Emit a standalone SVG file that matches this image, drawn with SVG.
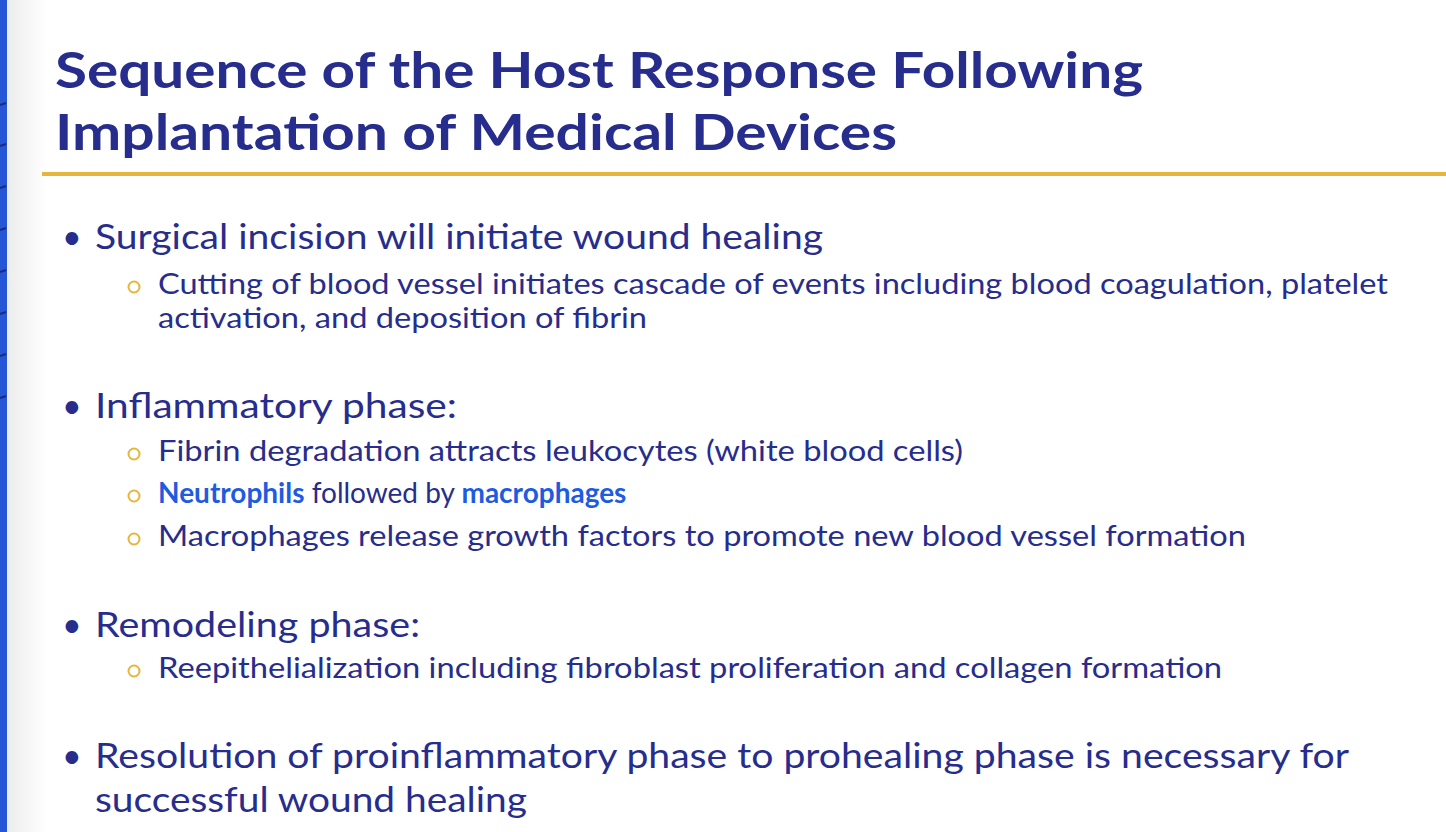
<svg xmlns="http://www.w3.org/2000/svg" width="1446" height="832" viewBox="0 0 1446 832">
<style>
.t{font-family:Lato,"Open Sans",sans-serif;fill:#272d8c}
.h{font-size:50px;font-weight:bold}
.b{font-size:34px}
.s{font-size:28px}
.k{font-weight:bold;fill:#1f5be0}
.c{fill:none;stroke:#e6b53c;stroke-width:2}
.tk{stroke:#1b2a7a;stroke-width:2}
</style>
<defs><linearGradient id="g" x1="0" x2="1"><stop offset="0" stop-color="#ececec"/><stop offset="1" stop-color="#fff"/></linearGradient></defs>
<rect width="1446" height="832" fill="#fff"/>
<rect x="7" width="40" height="832" fill="url(#g)"/>
<rect width="7" height="832" fill="#2456d6"/>
<g class="tk">
<line x1="0" y1="105" x2="6" y2="103"/><line x1="0" y1="146" x2="6" y2="144"/><line x1="0" y1="188" x2="6" y2="186"/><line x1="0" y1="230" x2="6" y2="228"/><line x1="0" y1="272" x2="6" y2="270"/><line x1="0" y1="314" x2="6" y2="312"/><line x1="0" y1="356" x2="6" y2="354"/><line x1="0" y1="398" x2="6" y2="396"/>
</g>
<text class="t h" x="55" y="88" textLength="1088" lengthAdjust="spacingAndGlyphs">Sequence of the Host Response Following</text>
<text class="t h" x="55" y="150" textLength="842" lengthAdjust="spacingAndGlyphs">Implantation of Medical Devices</text>
<rect x="42" y="172" width="1404" height="4" fill="#e6b53c"/>
<g class="t b">
<text x="62" y="249">•</text>
<text x="95" y="249" textLength="728" lengthAdjust="spacingAndGlyphs">Surgical incision will initiate wound healing</text>
<text x="62" y="418">•</text>
<text x="95" y="418" textLength="362" lengthAdjust="spacingAndGlyphs">Inflammatory phase:</text>
<text x="62" y="637">•</text>
<text x="95" y="637" textLength="325" lengthAdjust="spacingAndGlyphs">Remodeling phase:</text>
<text x="62" y="768">•</text>
<text x="95" y="768" textLength="1254" lengthAdjust="spacingAndGlyphs">Resolution of proinflammatory phase to prohealing phase is necessary for</text>
<text x="95" y="812" textLength="432" lengthAdjust="spacingAndGlyphs">successful wound healing</text>
</g>
<g>
<circle class="c" cx="134" cy="287" r="5.5"/><circle class="c" cx="134" cy="454" r="5.5"/><circle class="c" cx="134" cy="496" r="5.5"/><circle class="c" cx="134" cy="539" r="5.5"/><circle class="c" cx="134" cy="671" r="5.5"/>
</g>
<g class="t s">
<text x="158" y="294" textLength="1230" lengthAdjust="spacingAndGlyphs">Cutting of blood vessel initiates cascade of events including blood coagulation, platelet</text>
<text x="158" y="328" textLength="489" lengthAdjust="spacingAndGlyphs">activation, and deposition of fibrin</text>
<text x="158" y="461" textLength="805" lengthAdjust="spacingAndGlyphs">Fibrin degradation attracts leukocytes (white blood cells)</text>
<text x="158" y="503"><tspan class="k">Neutrophils</tspan> followed by <tspan class="k">macrophages</tspan></text>
<text x="158" y="546" textLength="1088" lengthAdjust="spacingAndGlyphs">Macrophages release growth factors to promote new blood vessel formation</text>
<text x="158" y="678" textLength="1064" lengthAdjust="spacingAndGlyphs">Reepithelialization including fibroblast proliferation and collagen formation</text>
</g>
</svg>
